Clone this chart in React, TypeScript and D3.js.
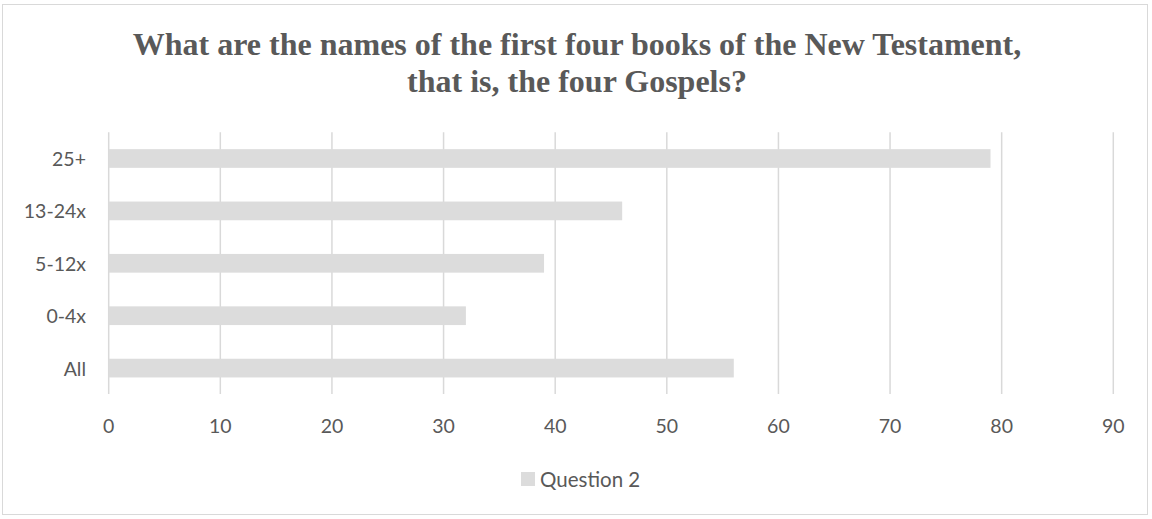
import React from "react";
import * as d3 from "d3";

const categories = ["25+", "13-24x", "5-12x", "0-4x", "All"];
const values = [79, 46, 39, 32, 56];
const xTicks = [0, 10, 20, 30, 40, 50, 60, 70, 80, 90];
const seriesName = "Question 2";
const titleLines = [
  "What are the names of the first four books of the New Testament,",
  "that is, the four Gospels?",
];

const W = 1152;
const H = 519;

export default function App() {
  const x = d3.scaleLinear().domain([0, 90]).range([108.7, 1113.3]);
  const y = d3.scaleBand<string>().domain(categories).range([132.3, 394.3]).paddingInner(0.643).paddingOuter(0.3215);
  const textColor = "#595959";
  const grid = "#d9d9d9";
  const barColor = "#dcdcdc";
  const sans = "Lato, 'Open Sans', sans-serif";
  return (
    <svg width={W} height={H} style={{ position: "absolute", left: 0, top: 0, display: "block" }}>
      <rect x={0} y={0} width={W} height={H} fill="#ffffff" />
      <rect x={2.5} y={4.5} width={1145} height={510} fill="#ffffff" stroke="#d9d9d9" strokeWidth={1} />
      {titleLines.map((t, i) => (
        <text key={i} x={577} y={55 + i * 37.3} textAnchor="middle" fill={textColor}
          style={{ fontFamily: "'Liberation Serif', 'Times New Roman', serif", fontWeight: 700, fontSize: 32 }}>
          {t}
        </text>
      ))}
      {xTicks.map((t) => (
        <line key={"g" + t} x1={x(t)} x2={x(t)} y1={132.3} y2={394} stroke={grid} strokeWidth={1.5} />
      ))}
      {categories.map((c, i) => (
        <rect key={"b" + c} x={x(0)} y={y(c)!} width={x(values[i]) - x(0)} height={y.bandwidth()} fill={barColor} />
      ))}
      {categories.map((c) => (
        <text key={"l" + c} x={86} y={y(c)! + y.bandwidth() / 2} textAnchor="end" dominantBaseline="central"
          fill={textColor} style={{ fontFamily: sans, fontSize: 19.5 }}>
          {c}
        </text>
      ))}
      {xTicks.map((t) => (
        <text key={"t" + t} x={x(t)} y={425} textAnchor="middle" dominantBaseline="central"
          fill={textColor} style={{ fontFamily: sans, fontSize: 19.5 }}>
          {t}
        </text>
      ))}
      <rect x={521} y={472} width={14} height={14} fill={barColor} />
      <text x={540} y={479} dominantBaseline="central" fill={textColor} style={{ fontFamily: sans, fontSize: 20.5 }}>
        {seriesName}
      </text>
    </svg>
  );
}
